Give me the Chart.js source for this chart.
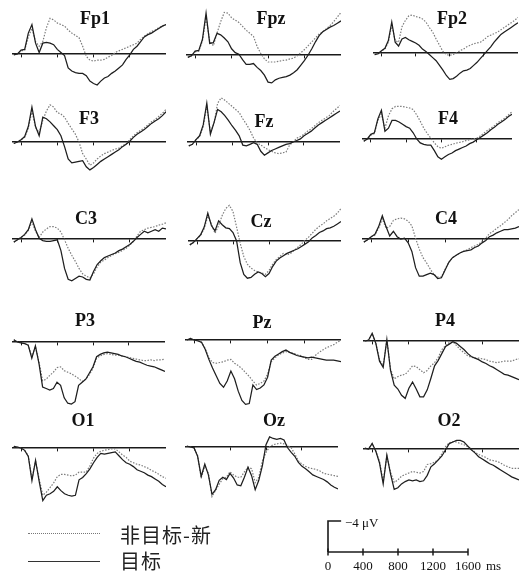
<!DOCTYPE html>
<html>
<head>
<meta charset="utf-8">
<script src="https://cdn.jsdelivr.net/npm/chart.js@4.4.1/dist/chart.umd.min.js"></script>
<style>
  body { margin: 0; background: #fff; }
  #page { position: relative; width: 526px; height: 571px; overflow: hidden; background: #fff; }
  canvas { position: absolute; }
  .title { position: absolute; font: bold 18px "Liberation Serif", serif; color: #111; line-height: 1; transform: translate(-50%, -50%); white-space: nowrap; }
  .lg-line { position: absolute; left: 28px; width: 72px; height: 0; }
  .lg-text { position: absolute; left: 120px; font: 20px "Noto Sans CJK SC", sans-serif; color: #222; line-height: 1; letter-spacing: 1px; transform: translateY(-50%); }
  .sb-text { position: absolute; font: 13px "Liberation Serif", serif; color: #111; line-height: 1; transform: translateY(-50%); white-space: nowrap; }
</style>
</head>
<body>
<div id="page"></div>
<script>
// time points (ms) shared by every trace
const timesMs = [-80,-40,0,40,80,120,160,200,240,280,320,360,400,440,480,520,560,600,640,680,720,760,800,840,880,920,960,1000,1040,1080,1120,1160,1200,1240,1280,1320,1360,1400,1440,1480,1520,1560,1600];
const axisTicksMs = [0, 400, 800, 1200, 1600];

// amplitudes in µV (negative is drawn upwards)
const fp1Target    = [0.1,0,-0.5,-0.6,-2.7,-3.8,-1.4,-0.2,-1.4,-1.5,-1.4,-1.2,-0.6,-0.2,0.2,1.8,2.2,2.4,2.5,2.5,2.8,3.5,3.8,4.0,3.5,3.1,2.9,2.5,2.2,1.8,1.4,0.7,0.1,-0.6,-1.0,-1.6,-2.2,-2.5,-2.7,-3.0,-3.3,-3.6,-3.8];
const fp1NonTarget = [0.1,0,-0.4,-0.5,-2.2,-3.3,-1.6,-1.0,-1.6,-3.4,-4.6,-4.4,-4.0,-3.8,-3.6,-3.1,-2.7,-2.4,-2.1,-1.0,0.3,0.8,0.9,0.8,0.8,0.7,0.4,0.2,-0.2,-0.4,-0.6,-0.8,-1.0,-1.2,-1.4,-1.9,-2.3,-2.6,-2.9,-3.1,-3.4,-3.6,-3.8];
const fpzTarget    = [0.3,0.1,-0.5,-0.6,-2.0,-5.4,-1.5,-1.6,-2.8,-2.6,-2.2,-1.7,-0.8,-0.3,-0.1,0.6,1.2,1.2,1.1,1.6,2.0,2.6,3.5,3.6,3.2,3.0,2.9,2.8,2.6,2.3,1.9,1.3,0.7,0.0,-0.8,-1.7,-2.5,-3.0,-3.3,-3.6,-3.8,-4.1,-4.4];
const fpzNonTarget = [0.3,0.1,-0.4,-0.5,-1.8,-4.8,-1.8,-1.2,-2.8,-4.3,-5.5,-5.4,-4.8,-4.5,-4.2,-3.7,-3.2,-2.8,-2.4,-1.1,-0.2,0.5,0.9,0.9,0.9,0.8,0.7,0.65,0.5,0.4,0.1,-0.3,-0.7,-1.2,-1.7,-2.2,-2.7,-3.0,-3.4,-3.8,-4.3,-4.9,-5.5];
const fp2Target    = [0.2,0.1,-0.3,-0.6,-1.6,-4.0,-1.4,-0.9,-1.8,-2.0,-1.7,-1.5,-1.3,-1.0,-0.5,-0.2,0.2,0.6,1.0,1.6,2.2,2.9,3.4,3.3,3.0,2.6,2.3,2.2,2.0,1.6,1.2,0.7,0.2,-0.3,-0.8,-1.4,-1.9,-2.4,-2.7,-3.0,-3.3,-3.6,-3.9];
const fp2NonTarget = [0.2,0.1,-0.3,-0.5,-1.4,-3.6,-1.6,-1.4,-3.4,-4.2,-4.8,-4.9,-4.7,-4.6,-4.4,-4.0,-3.3,-2.7,-1.8,-1.0,-0.2,0.2,0.3,0.2,0.0,-0.3,-0.5,-0.8,-1.0,-1.2,-1.3,-1.4,-1.7,-2.1,-2.3,-2.5,-2.7,-3.0,-3.3,-3.6,-3.9,-4.2,-4.6];
const f3Target     = [0.2,0,-0.3,-0.7,-2.0,-4.5,-2.0,-0.8,-3.2,-3.0,-2.6,-2.1,-1.6,-0.8,0.6,2.2,2.7,2.6,2.5,2.4,3.2,3.6,3.3,2.9,2.5,2.2,1.9,1.6,1.3,1.0,0.6,0.3,-0.1,-0.6,-1.0,-1.3,-1.6,-2.0,-2.4,-2.7,-3.0,-3.4,-3.9];
const f3NonTarget  = [0.2,0,-0.3,-0.6,-1.8,-4.0,-1.9,-1.2,-2.8,-4.0,-4.8,-4.5,-3.8,-3.6,-3.2,-2.4,-1.7,-1.0,0.0,1.5,2.2,3.0,2.7,2.2,1.8,1.5,1.3,1.1,0.9,0.8,0.5,0.2,-0.3,-0.8,-1.2,-1.5,-1.8,-2.2,-2.6,-2.9,-3.3,-3.7,-4.2];
const fzTarget     = [0.5,0.3,-0.3,-0.8,-2.2,-5.0,-1.0,-2.5,-4.2,-3.9,-3.4,-2.8,-2.1,-1.5,-0.8,0.4,0.5,0.3,0.1,0.3,1.2,1.7,1.4,1.1,0.9,0.7,0.5,0.3,0.2,0.0,-0.2,-0.4,-0.8,-1.1,-1.4,-1.8,-2.2,-2.5,-2.8,-3.1,-3.4,-3.7,-4.0];
const fzNonTarget  = [0.5,0.3,-0.3,-0.7,-2.0,-4.6,-1.3,-2.4,-5.0,-5.7,-5.4,-5.0,-4.6,-4.2,-3.8,-3.0,-2.3,-1.5,-0.5,0.1,0.4,0.7,1.0,1.2,1.4,1.5,1.4,1.3,0.4,0.0,-0.5,-0.7,-1.0,-1.4,-1.7,-2.1,-2.5,-2.8,-3.1,-3.4,-3.9,-4.3,-4.7];
const f4Target     = [0.3,0.0,-0.6,-0.8,-2.6,-3.7,-1.0,-1.4,-2.4,-2.4,-2.2,-1.9,-1.6,-1.4,-0.8,0.0,0.5,0.7,0.8,0.8,1.5,2.3,2.6,2.3,2.0,1.8,1.5,1.3,1.1,0.9,0.6,0.4,0.1,-0.2,-0.5,-0.8,-1.2,-1.5,-1.9,-2.2,-2.5,-2.9,-3.2];
const f4NonTarget  = [0.3,0.0,-0.5,-0.7,-2.4,-3.2,-1.4,-3.0,-3.9,-4.2,-4.2,-4.2,-4.1,-4.0,-3.8,-3.1,-2.3,-1.4,-0.7,-0.1,0.5,1.0,1.2,1.0,0.8,0.7,0.55,0.45,0.35,0.2,0.1,0.0,-0.1,-0.4,-0.75,-1.1,-1.4,-1.7,-2.1,-2.4,-2.7,-3.1,-3.5];
const c3Target     = [0.4,0.1,-0.2,-0.6,-1.2,-2.6,-1.2,-0.1,0.2,0.3,0.3,0.2,0.1,1.5,3.8,5.2,5.4,5.1,4.8,4.9,5.2,5.3,4.2,3.3,2.8,2.4,2.2,2.0,1.8,1.5,1.3,1.0,0.7,0.3,-0.2,-0.6,-1.0,-0.8,-1.0,-1.2,-1.0,-1.4,-1.3];
const c3NonTarget  = [0.4,0.1,-0.2,-0.5,-1.1,-2.2,-1.0,-0.2,-0.9,-1.3,-1.6,-1.6,-1.4,-0.9,0.1,1.2,2.1,2.9,3.8,4.5,4.8,5.0,4.5,3.6,3.0,2.7,2.4,2.1,1.9,1.7,1.5,1.2,0.8,0.3,-0.4,-1.0,-1.2,-1.4,-1.5,-1.6,-1.8,-1.9,-2.1];
const czTarget     = [0.5,0.2,-0.3,-0.8,-1.8,-3.6,-2.0,-1.3,-2.6,-2.1,-1.7,-1.6,-1.1,0.0,2.8,4.3,4.8,4.7,4.3,4.0,4.2,4.6,4.2,3.3,2.6,2.2,1.9,1.6,1.4,1.2,1.0,0.7,0.4,0.1,-0.4,-0.7,-1.1,-1.3,-1.6,-1.7,-1.9,-2.2,-2.5];
const czNonTarget  = [0.5,0.2,-0.3,-0.7,-1.6,-3.2,-2.2,-1.0,-2.0,-3.3,-4.2,-4.6,-3.8,-1.8,0.3,2.0,3.0,3.5,3.8,4.0,4.1,4.3,3.8,3.0,2.4,2.0,1.6,1.8,1.6,1.2,0.8,0.4,-0.1,-0.5,-1.0,-1.5,-1.9,-2.2,-2.6,-2.9,-3.2,-3.6,-4.2];
const c4Target     = [0.4,0.1,-0.3,-0.6,-1.6,-3.0,-1.6,-0.4,-1.0,-0.3,0.0,-0.1,0.5,1.6,3.7,4.8,4.8,4.6,4.4,4.6,5.1,5.0,4.0,3.0,2.4,2.1,1.8,1.6,1.5,1.4,1.1,0.9,0.5,0.2,-0.3,-0.5,-0.8,-1.0,-1.2,-1.2,-1.3,-1.4,-1.6];
const c4NonTarget  = [0.4,0.1,-0.3,-0.5,-1.4,-2.6,-1.4,-1.6,-2.4,-2.6,-2.7,-2.6,-2.3,-1.7,-0.1,1.3,2.4,3.1,3.9,4.6,4.9,4.9,3.9,3.0,2.4,2.1,1.8,1.6,1.4,1.1,0.9,0.7,0.3,-0.1,-0.7,-1.0,-1.4,-1.7,-2.1,-2.5,-3.0,-3.4,-3.8];
const p3Target     = [-0.3,0.0,0.1,0.2,0.4,2.1,0.5,2.8,5.8,6.0,6.2,6.0,5.2,5.6,7.2,7.9,8.0,7.7,5.6,5.2,4.8,4.0,3.2,1.9,1.6,1.4,1.3,1.4,1.5,1.6,1.8,1.9,2.1,2.3,2.5,2.6,2.8,3.0,3.1,3.2,3.4,3.6,3.8];
const p3NonTarget  = [-0.3,0.0,0.1,0.2,0.4,1.9,0.6,2.6,5.0,4.8,4.3,3.9,3.3,3.2,3.7,3.9,4.1,4.4,4.7,5.1,4.8,4.2,3.4,2.1,1.8,1.6,1.5,1.6,1.7,1.7,1.8,1.9,2.0,2.1,2.2,2.3,2.4,2.4,2.3,2.4,2.3,2.3,2.2];
const pzTarget     = [0.0,-0.2,0.0,0.1,0.3,1.2,2.5,3.6,4.6,5.6,6.1,5.3,4.0,5.0,6.6,7.8,8.3,8.2,5.8,6.4,6.2,5.8,4.8,2.6,2.1,1.8,1.5,1.3,1.6,1.8,2.0,2.1,2.2,2.3,2.2,2.3,2.4,2.5,2.6,2.6,2.6,2.7,2.8];
const pzNonTarget  = [0.0,-0.2,0.0,0.1,0.3,1.1,2.3,2.9,3.0,2.9,2.8,2.6,2.5,3.0,3.3,3.7,4.2,4.7,5.3,5.8,5.6,5.3,4.4,2.8,2.3,1.9,1.7,1.5,1.6,1.7,1.9,2.0,2.3,2.5,2.5,2.0,1.6,1.3,1.0,0.8,0.6,0.3,0.0];
const p4Target     = [0.0,-0.1,-1.0,0.3,2.6,3.4,-0.2,3.8,5.7,6.2,7.0,7.4,6.1,5.3,6.2,7.2,7.2,6.3,4.8,3.2,2.5,1.6,0.7,0.4,0.1,0.3,0.7,1.1,1.6,2.0,2.2,2.4,2.7,2.9,3.2,3.4,3.7,4.0,4.3,4.4,4.6,4.8,5.0];
const p4NonTarget  = [0.0,-0.1,-0.9,0.3,2.4,3.2,-0.1,3.6,4.9,4.6,4.4,4.3,3.8,3.2,3.3,3.7,4.1,3.8,3.2,2.8,2.1,1.1,0.6,0.2,0.1,0.6,1.1,1.5,1.9,2.1,2.2,2.2,2.3,2.4,2.6,2.7,2.8,2.7,2.6,2.6,2.6,2.4,2.3];
const o1Target     = [-0.2,-0.1,0.0,0.3,1.1,4.2,1.6,4.3,6.8,6.1,5.9,5.6,5.0,5.5,5.9,6.1,6.2,6.1,4.1,3.8,3.3,2.7,1.9,1.2,0.7,0.8,0.7,0.6,0.5,1.0,1.5,1.9,2.1,2.4,2.8,3.0,3.2,3.5,3.7,4.0,4.3,4.7,5.0];
const o1NonTarget  = [-0.2,-0.1,0.0,0.3,1.0,4.0,1.7,4.0,6.1,5.7,5.1,4.5,3.7,3.4,3.4,3.5,3.6,3.5,3.1,3.1,3.1,2.3,1.3,0.7,0.4,0.3,0.2,0.1,0.1,0.5,0.9,1.2,1.7,1.9,2.1,2.2,2.4,2.6,2.9,3.1,3.4,3.7,3.9];
const ozTarget     = [-0.1,0.0,0.1,1.2,3.8,2.2,3.6,6.1,5.5,4.3,3.9,4.2,3.4,4.0,4.9,5.0,3.9,2.6,3.7,5.5,4.3,2.4,-0.3,-1.3,-1.1,-1.0,-1.1,-0.9,0.1,0.7,1.2,2.0,2.5,2.8,3.2,3.6,3.8,4.0,4.2,4.5,4.9,5.2,5.4];
const ozNonTarget  = [-0.1,0.0,0.1,1.1,4.0,2.5,3.4,6.4,5.6,4.8,4.1,3.9,3.2,3.6,3.9,3.9,3.2,2.6,2.8,4.6,3.9,1.8,0.7,0.0,-0.3,-0.4,-0.5,-0.4,-0.2,0.1,0.9,1.8,2.2,2.5,2.7,2.8,2.9,3.1,3.4,3.5,3.6,3.7,3.8];
const o2Target     = [-0.1,0.0,-0.7,0.3,1.8,4.5,0.8,3.2,5.2,5.0,4.5,4.2,4.0,4.1,4.0,4.2,4.1,3.4,2.3,1.9,1.4,0.9,0.1,-0.7,-0.9,-1.1,-1.1,-0.9,-0.4,0.1,0.5,1.0,1.3,1.6,1.9,2.1,2.4,2.7,3.0,3.3,3.6,3.8,4.0];
const o2NonTarget  = [-0.1,0.0,-0.7,0.3,1.6,4.2,0.9,3.0,4.3,4.0,3.5,3.3,3.1,2.9,3.0,3.1,2.9,2.0,1.9,1.7,1.4,0.6,-0.3,-0.8,-0.95,-0.9,-0.7,-0.55,-0.3,0.0,0.4,0.7,0.9,1.1,1.4,1.5,1.6,1.8,2.1,2.3,2.5,2.5,2.5];

// calibration bar
const scaleBarUv = -4;
const scaleTicksMs = [0, 400, 800, 1200, 1600];

const legendLabels = ['非目标-新', '目标'];

// electrode -> data
const channels = [
  ['Fp1', fp1Target, fp1NonTarget], ['Fpz', fpzTarget, fpzNonTarget], ['Fp2', fp2Target, fp2NonTarget],
  ['F3', f3Target, f3NonTarget],    ['Fz', fzTarget, fzNonTarget],    ['F4', f4Target, f4NonTarget],
  ['C3', c3Target, c3NonTarget],    ['Cz', czTarget, czNonTarget],    ['C4', c4Target, c4NonTarget],
  ['P3', p3Target, p3NonTarget],    ['Pz', pzTarget, pzNonTarget],    ['P4', p4Target, p4NonTarget],
  ['O1', o1Target, o1NonTarget],    ['Oz', ozTarget, ozNonTarget],    ['O2', o2Target, o2NonTarget]
];

// where each little panel sits on the page (axis left/right, baseline y, title centre)
const layout = {
  Fp1: [12, 166, 54, 95, 18],   Fpz: [186, 341, 55, 271, 18],  Fp2: [373, 518, 53, 452, 18],
  F3:  [12, 166, 142, 89, 118], Fz:  [187, 340, 142, 264, 121], F4: [362, 512, 139, 448, 118],
  C3:  [12, 166, 239, 86, 218], Cz:  [188, 341, 241, 261, 221], C4: [362, 519, 239, 446, 218],
  P3:  [12, 165, 342, 85, 320], Pz:  [185, 341, 340, 262, 322], P4: [363, 519, 341, 445, 320],
  O1:  [12, 166, 448, 83, 420], Oz:  [185, 338, 447, 274, 420], O2: [363, 519, 449, 449, 420]
};
const PX_PER_UV = 7.75;
const UV_ABOVE = 8;      // µV of room above the baseline
const PANEL_H = 140;

const page = document.getElementById('page');
const toPoints = vals => timesMs.map((t, i) => ({ x: t, y: vals[i] }));
const noPad = s => { s.paddingLeft = 0; s.paddingRight = 0; };

function addCanvas(left, top, w, h) {
  const c = document.createElement('canvas');
  c.width = w; c.height = h;
  c.style.left = left + 'px'; c.style.top = top + 'px';
  c.style.width = w + 'px'; c.style.height = h + 'px';
  page.appendChild(c);
  return c;
}

channels.forEach(([name, target, nonTarget]) => {
  const [l, r, base, tx, ty] = layout[name];
  const cv = addCanvas(l, base - UV_ABOVE * PX_PER_UV, r - l, PANEL_H);
  new Chart(cv, {
    type: 'line',
    data: {
      datasets: [
        { label: legendLabels[1], data: toPoints(target), borderColor: '#1e1e1e', borderWidth: 1.25, pointRadius: 0, tension: 0 },
        { label: legendLabels[0], data: toPoints(nonTarget), borderColor: '#7c7c7c', borderWidth: 1.2, borderDash: [1.5, 1.5], pointRadius: 0, tension: 0 }
      ]
    },
    options: {
      responsive: false,
      animation: false,
      layout: { padding: 0, autoPadding: false },
      plugins: { legend: { display: false }, tooltip: { enabled: false } },
      scales: {
        x: {
          type: 'linear', min: -100, max: 1600,
          position: { y: 0 },
          afterBuildTicks: ax => { ax.ticks = axisTicksMs.map(v => ({ value: v })); },
          afterFit: noPad,
          ticks: { display: false },
          grid: { drawOnChartArea: false, drawTicks: true, tickLength: 3, color: '#1a1a1a', lineWidth: 1 },
          border: { display: true, color: '#1a1a1a', width: 1.4 }
        },
        y: {
          type: 'linear', reverse: true,
          min: -UV_ABOVE, max: PANEL_H / PX_PER_UV - UV_ABOVE,
          display: false
        }
      }
    }
  });
  const t = document.createElement('div');
  t.className = 'title';
  t.textContent = name;
  t.style.left = tx + 'px';
  t.style.top = ty + 'px';
  page.appendChild(t);
});

// legend
[[legendLabels[0], 533, '1px dotted #777', 535], [legendLabels[1], 561, '1.5px solid #333', 561]].forEach(([txt, ly, border, ty]) => {
  const line = document.createElement('div');
  line.className = 'lg-line';
  line.style.top = ly + 'px';
  line.style.borderTop = border;
  page.appendChild(line);
  const lab = document.createElement('div');
  lab.className = 'lg-text';
  lab.style.top = ty + 'px';
  lab.textContent = txt;
  page.appendChild(lab);
});

// calibration bar: 0..1600 ms, -4 µV
const SB_LEFT = 318, SB_TOP = 505, SB_W = 208, SB_H = 66;
const sbZeroX = 10, sbMsPerPx = 1600 / 140, sbZeroY = 47;
const sbCanvas = addCanvas(SB_LEFT, SB_TOP, SB_W, SB_H);
new Chart(sbCanvas, {
  type: 'line',
  data: {
    datasets: [
      { data: scaleTicksMs.map(t => ({ x: t, y: 0 })), borderColor: '#1a1a1a', borderWidth: 1.6,
        pointStyle: 'line', rotation: 90, pointRadius: 3.5, pointBorderWidth: 1.5, pointBorderColor: '#1a1a1a', tension: 0 },
      { data: [{ x: 0, y: 0 }, { x: 0, y: scaleBarUv }, { x: 150, y: scaleBarUv }], borderColor: '#1a1a1a', borderWidth: 1.6, pointRadius: 0, tension: 0 }
    ]
  },
  options: {
    responsive: false,
    animation: false,
    layout: { padding: 0, autoPadding: false },
    plugins: { legend: { display: false }, tooltip: { enabled: false } },
    scales: {
      x: {
        type: 'linear', min: -sbZeroX * sbMsPerPx, max: (SB_W - sbZeroX) * sbMsPerPx,
        position: { y: 0 },
        afterBuildTicks: ax => { ax.ticks = scaleTicksMs.map(v => ({ value: v })); },
        afterFit: noPad,
        ticks: { display: true, color: '#111', padding: -1, maxRotation: 0, autoSkip: false,
                 callback: v => String(v), font: { family: 'Liberation Serif', size: 13 } },
        grid: { display: false },
        border: { display: false }
      },
      y: {
        type: 'linear', reverse: true,
        min: -sbZeroY / PX_PER_UV, max: (SB_H - sbZeroY) / PX_PER_UV,
        display: false
      }
    }
  }
});
const uvLab = document.createElement('div');
uvLab.className = 'sb-text';
uvLab.style.left = '345px'; uvLab.style.top = '522px';
uvLab.textContent = '\u22124 \u03bcV';
page.appendChild(uvLab);
const msLab = document.createElement('div');
msLab.className = 'sb-text';
msLab.style.left = '486px'; msLab.style.top = '565px';
msLab.textContent = 'ms';
page.appendChild(msLab);
</script>
</body>
</html>
